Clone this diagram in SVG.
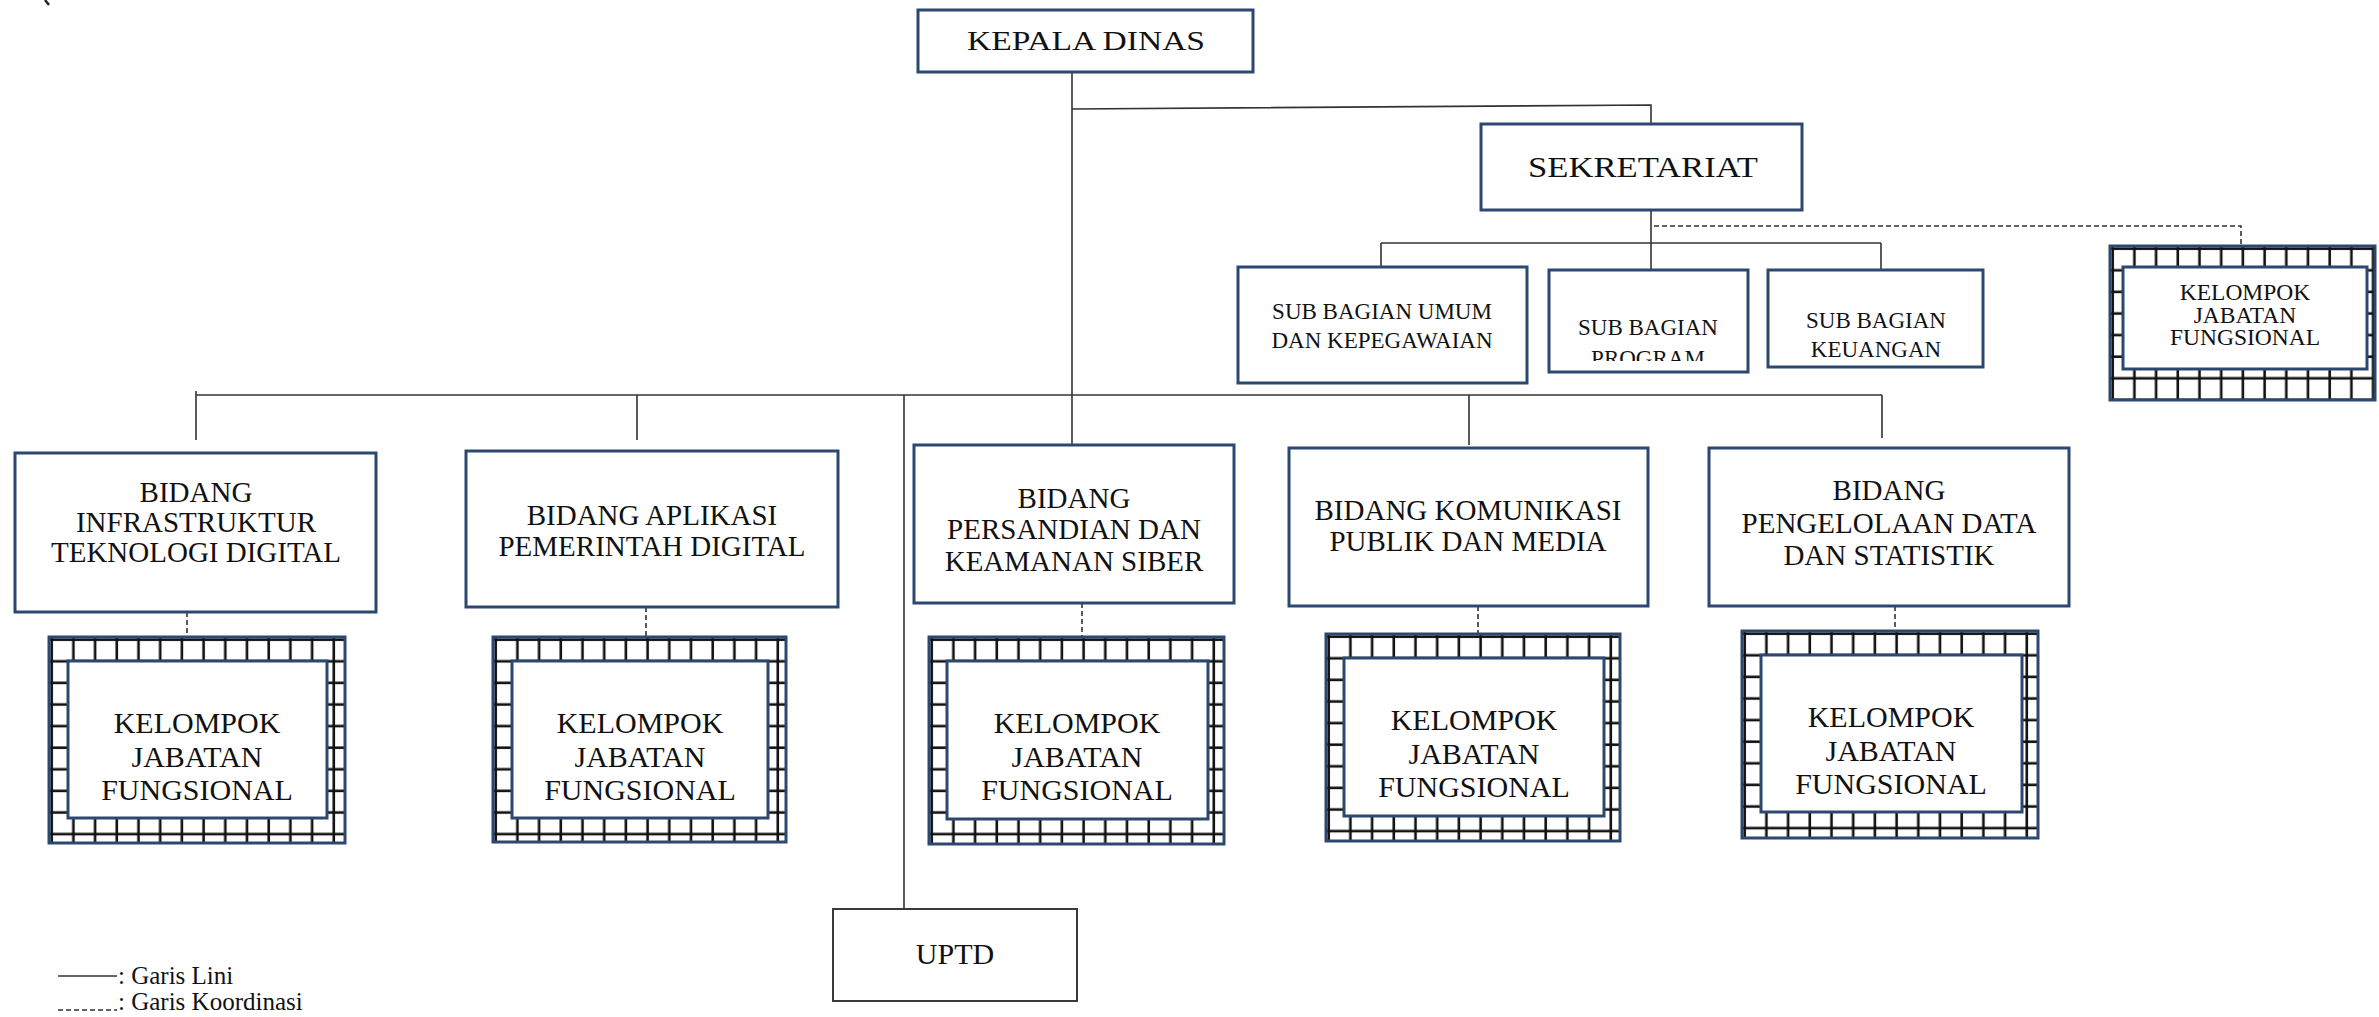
<svg xmlns="http://www.w3.org/2000/svg" width="2379" height="1017" viewBox="0 0 2379 1017">
<style>
.box{fill:#fff;stroke:#2d4870;stroke-width:3}
.ubox{fill:#fff;stroke:#3a3a3a;stroke-width:2}
.t{font-family:"Liberation Serif","Times New Roman",serif;fill:#111;text-anchor:middle}
.big{font-size:29px}
.kj{font-size:30px}
.sm{font-size:23px}
.leg{font-family:"Liberation Serif","Times New Roman",serif;fill:#111;font-size:25px}
.ln{fill:none;stroke:#333;stroke-width:1.6}
.dl{fill:none;stroke:#333;stroke-width:1.6;stroke-dasharray:5 3}
</style>
<defs>
<pattern id="grid" patternUnits="userSpaceOnUse" x="0" y="0" width="21.7" height="21.6">
<rect width="21.7" height="21.6" fill="#fff"/>
<line x1="2.7" y1="0" x2="2.7" y2="21.6" stroke="#111" stroke-width="2.6"/>
<line x1="0" y1="2.7" x2="21.7" y2="2.7" stroke="#111" stroke-width="2.6"/>
</pattern>
<clipPath id="clipProg"><rect x="1549" y="270" width="200" height="91"/></clipPath>
</defs>
<rect width="2379" height="1017" fill="#fff"/>
<path d="M45,0 L49,5" stroke="#222" stroke-width="2.5" fill="none"/>

<g id="connectors">
<path class="ln" d="M1072,71 V445"/>
<path class="ln" d="M1072,109 L1651,105 V124" stroke-width="2"/>
<path class="ln" d="M1651,209 V272"/>
<path class="ln" d="M1381,243 H1881"/>
<path class="ln" d="M1381,243 V267"/>
<path class="ln" d="M1881,243 V270"/>
<path class="ln" d="M196,395 H1882"/>
<path class="ln" d="M196,391 V440"/>
<path class="ln" d="M637,395 V440"/>
<path class="ln" d="M904,395 V910"/>
<path class="ln" d="M1469,395 V445"/>
<path class="ln" d="M1882,395 V438"/>
<path class="dl" d="M1654,226 H2241 V246"/>
<path class="dl" d="M187,612 V637"/>
<path class="dl" d="M646,607 V637"/>
<path class="dl" d="M1082,603 V637"/>
<path class="dl" d="M1478,606 V634"/>
<path class="dl" d="M1895,606 V631"/>
</g>

<g id="kepala-dinas">
<rect class="box" x="918" y="10" width="335" height="62"/>
<text class="t" x="1086" y="50" font-size="27" textLength="238" lengthAdjust="spacingAndGlyphs">KEPALA  DINAS</text>
</g>

<g id="sekretariat">
<rect class="box" x="1481" y="124" width="321" height="86"/>
<text class="t" x="1643" y="177" font-size="30" textLength="230" lengthAdjust="spacingAndGlyphs">SEKRETARIAT</text>
</g>

<g id="sub-umum">
<rect class="box" x="1238" y="267" width="289" height="116"/>
<text class="t sm" x="1382" y="319">SUB BAGIAN UMUM</text>
<text class="t sm" x="1382" y="348">DAN KEPEGAWAIAN</text>
</g>

<g id="sub-program">
<rect class="box" x="1549" y="270" width="199" height="102"/>
<g clip-path="url(#clipProg)">
<text class="t sm" x="1648" y="335">SUB BAGIAN</text>
<text class="t sm" x="1648" y="366">PROGRAM</text>
</g>
</g>

<g id="sub-keuangan">
<rect class="box" x="1768" y="270" width="215" height="97"/>
<text class="t sm" x="1876" y="328">SUB BAGIAN</text>
<text class="t sm" x="1876" y="357">KEUANGAN</text>
</g>

<g id="kjf-sekretariat" transform="translate(2110,246)">
<rect x="0" y="0" width="265" height="154" fill="url(#grid)" stroke="#2d4870" stroke-width="3"/>
<rect class="box" x="13" y="21" width="244" height="102"/>
<text class="t" x="135" y="54" font-size="23.5">KELOMPOK</text>
<text class="t" x="135" y="77" font-size="23.5">JABATAN</text>
<text class="t" x="135" y="99" font-size="23.5">FUNGSIONAL</text>
</g>

<g id="bidang-infrastruktur">
<rect class="box" x="15" y="453" width="361" height="159"/>
<text class="t big" x="196" y="502">BIDANG</text>
<text class="t big" x="196" y="532">INFRASTRUKTUR</text>
<text class="t big" x="196" y="562">TEKNOLOGI DIGITAL</text>
</g>

<g id="bidang-aplikasi">
<rect class="box" x="466" y="451" width="372" height="156"/>
<text class="t big" x="652" y="525">BIDANG APLIKASI</text>
<text class="t big" x="652" y="556">PEMERINTAH DIGITAL</text>
</g>

<g id="bidang-persandian">
<rect class="box" x="914" y="445" width="320" height="158"/>
<text class="t big" x="1074" y="508">BIDANG</text>
<text class="t big" x="1074" y="539">PERSANDIAN DAN</text>
<text class="t big" x="1074" y="571">KEAMANAN SIBER</text>
</g>

<g id="bidang-komunikasi">
<rect class="box" x="1289" y="448" width="359" height="158"/>
<text class="t big" x="1468" y="520">BIDANG KOMUNIKASI</text>
<text class="t big" x="1468" y="551">PUBLIK DAN MEDIA</text>
</g>

<g id="bidang-pengelolaan">
<rect class="box" x="1709" y="448" width="360" height="158"/>
<text class="t big" x="1889" y="500">BIDANG</text>
<text class="t big" x="1889" y="533">PENGELOLAAN DATA</text>
<text class="t big" x="1889" y="565">DAN STATISTIK</text>
</g>

<g id="kjf-infrastruktur" transform="translate(49,637)">
<rect x="0" y="0" width="296" height="206" fill="url(#grid)" stroke="#2d4870" stroke-width="3"/>
<rect class="box" x="19" y="24" width="259" height="157"/>
<text class="t kj" x="148" y="96">KELOMPOK</text>
<text class="t kj" x="148" y="130">JABATAN</text>
<text class="t kj" x="148" y="163">FUNGSIONAL</text>
</g>

<g id="kjf-aplikasi" transform="translate(493,637)">
<rect x="0" y="0" width="293" height="205" fill="url(#grid)" stroke="#2d4870" stroke-width="3"/>
<rect class="box" x="19" y="24" width="256" height="157"/>
<text class="t kj" x="147" y="96">KELOMPOK</text>
<text class="t kj" x="147" y="130">JABATAN</text>
<text class="t kj" x="147" y="163">FUNGSIONAL</text>
</g>

<g id="kjf-persandian" transform="translate(929,637)">
<rect x="0" y="0" width="295" height="207" fill="url(#grid)" stroke="#2d4870" stroke-width="3"/>
<rect class="box" x="18" y="24" width="261" height="158"/>
<text class="t kj" x="148" y="96">KELOMPOK</text>
<text class="t kj" x="148" y="130">JABATAN</text>
<text class="t kj" x="148" y="163">FUNGSIONAL</text>
</g>

<g id="kjf-komunikasi" transform="translate(1326,634)">
<rect x="0" y="0" width="294" height="207" fill="url(#grid)" stroke="#2d4870" stroke-width="3"/>
<rect class="box" x="18" y="24" width="260" height="158"/>
<text class="t kj" x="148" y="96">KELOMPOK</text>
<text class="t kj" x="148" y="130">JABATAN</text>
<text class="t kj" x="148" y="163">FUNGSIONAL</text>
</g>

<g id="kjf-pengelolaan" transform="translate(1742,631)">
<rect x="0" y="0" width="296" height="207" fill="url(#grid)" stroke="#2d4870" stroke-width="3"/>
<rect class="box" x="19" y="24" width="261" height="157"/>
<text class="t kj" x="149" y="96">KELOMPOK</text>
<text class="t kj" x="149" y="130">JABATAN</text>
<text class="t kj" x="149" y="163">FUNGSIONAL</text>
</g>

<g id="uptd">
<rect class="ubox" x="833" y="909" width="244" height="92"/>
<text class="t" x="955" y="964" font-size="30">UPTD</text>
</g>

<g id="legend">
<path class="ln" d="M58,976 H117"/>
<text class="leg" x="118" y="984">: Garis Lini</text>
<path class="dl" d="M58,1010 H117" stroke-dasharray="4 3"/>
<text class="leg" x="118" y="1010">: Garis Koordinasi</text>
</g>
</svg>
